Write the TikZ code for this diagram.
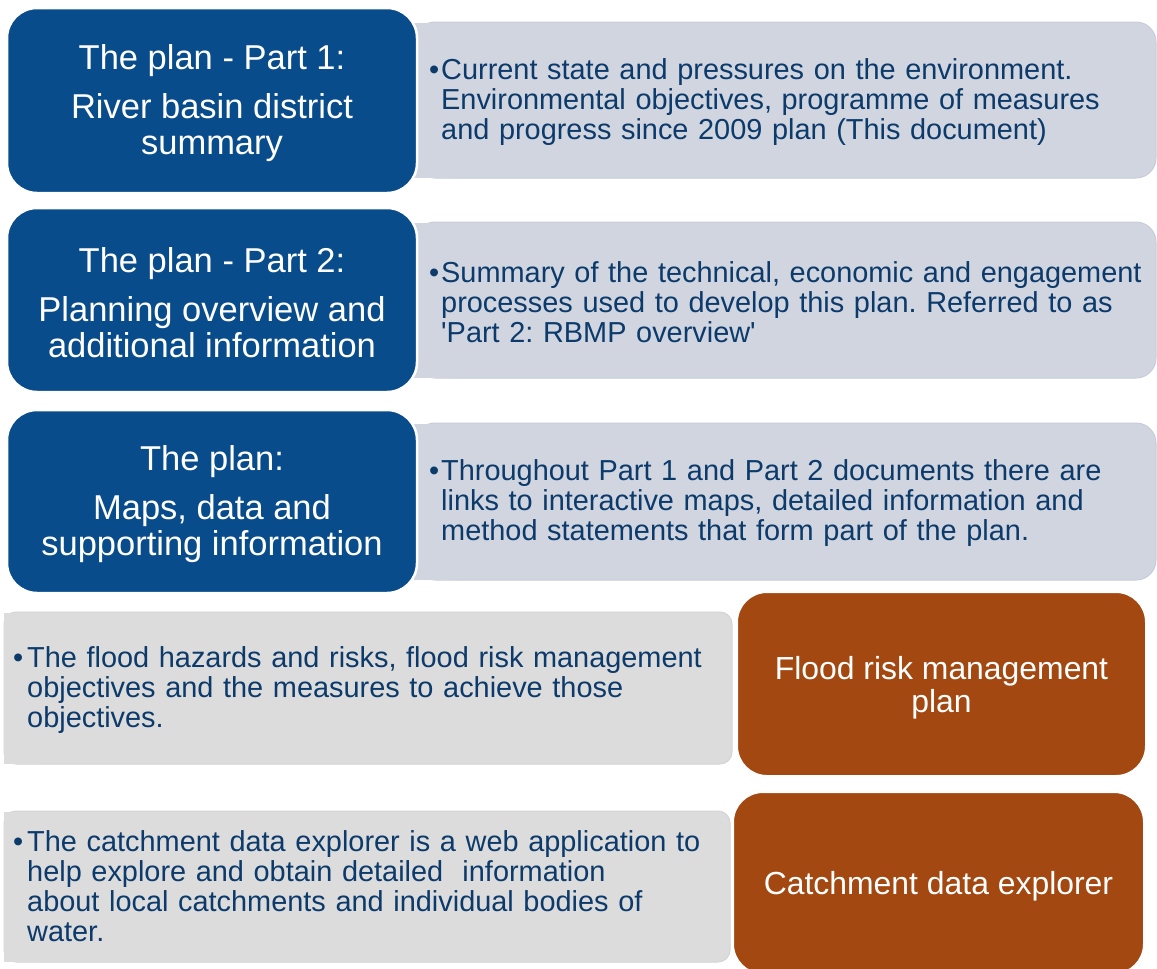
\documentclass[tikz,border=0pt]{standalone}
\usepackage{fontspec}
\newfontfamily\lsans{Liberation Sans}
\frenchspacing
\definecolor{planblue}{RGB}{9,76,139}
\definecolor{greytopc}{RGB}{208,213,223}
\definecolor{greytopb}{RGB}{199,205,216}
\definecolor{greybotc}{RGB}{220,220,220}
\definecolor{greybotb}{RGB}{212,212,212}
\definecolor{floodorange}{RGB}{163,72,17}
\definecolor{textblue}{RGB}{12,58,107}
\newcommand{\bul}{\makebox[12pt][l]{\textbullet}}
\newcommand{\ind}{\hspace*{12pt}}
\tikzset{
  bluebox/.style={fill=planblue, draw=white, line width=2.5pt, rounded corners=30pt, outer sep=0pt, inner sep=0pt},
  orangebox/.style={fill=floodorange, draw=white, line width=2pt, rounded corners=30pt, outer sep=0pt, inner sep=0pt},
  bluetext/.style={inner sep=0pt, align=center, text=white, font=\lsans\frenchspacing\fontsize{34.5}{36}\selectfont},
  orangetext/.style={inner sep=0pt, align=center, text=white, font=\lsans\frenchspacing\fontsize{31.9}{33}\selectfont},
  greytop/.style={fill=greytopc, draw=greytopb, line width=1pt, rounded corners=20pt, inner sep=0pt, outer sep=0pt},
  greybot/.style={fill=greybotc, draw=greybotb, line width=1pt, rounded corners=12pt, inner sep=0pt, outer sep=0pt},
  greytext/.style={inner sep=0pt, align=left, text width=740pt, text=textblue,
    font=\lsans\frenchspacing\fontsize{28.9}{30}\selectfont, anchor=west},
}
\begin{document}
\begin{tikzpicture}[x=1pt,y=-1pt]
\useasboundingbox[fill=white] (0,0) rectangle (1157,969);

% grey boxes, top
\node[greytop, anchor=north west, minimum width=741pt, minimum height=156pt] (g1) at (415,22) {};
\fill[greytopc] (414,22.5) rectangle (450,177.5);
\node[greytop, anchor=north west, minimum width=741pt, minimum height=156pt] (g2) at (415,222) {};
\fill[greytopc] (414,222.5) rectangle (450,377.5);
\node[greytop, anchor=north west, minimum width=741pt, minimum height=157pt] (g3) at (415,423) {};
\fill[greytopc] (414,423.5) rectangle (450,579.5);

% grey boxes, bottom
\node[greybot, anchor=north west, minimum width=728pt, minimum height=152pt] (g4) at (4,612) {};
\fill[greybotc] (3.5,612.5) rectangle (40,763.5);
\node[greybot, anchor=north west, minimum width=726pt, minimum height=151pt] (g5) at (4,811) {};
\fill[greybotc] (3.5,811.5) rectangle (40,961.5);

% blue boxes
\node[bluebox, anchor=north west, minimum width=410pt, minimum height=185pt] (b1) at (7,8) {};
\node[bluebox, anchor=north west, minimum width=410pt, minimum height=184pt] (b2) at (7,208) {};
\node[bluebox, anchor=north west, minimum width=410pt, minimum height=183pt] (b3) at (7,410) {};
\node[bluetext] (b1t) at ([yshift=-3pt]b1.center)
  {The plan - Part 1:\\[13pt]River basin district\\summary};
\node[bluetext] (b2t) at ([yshift=-3pt]b2.center)
  {The plan - Part 2:\\[13pt]Planning overview and\\additional information};
\node[bluetext] (b3t) at ([yshift=-3pt]b3.center)
  {The plan:\\[13pt]Maps, data and\\supporting information};

% orange boxes
\node[orangebox, anchor=north west, minimum width=409pt, minimum height=184pt] (o1) at (737,592) {};
\node[orangebox, anchor=north west, minimum width=411pt, minimum height=182pt] (o2) at (733,792) {};
\node[orangetext] (o1t) at ([yshift=-3.5pt]o1.center) {Flood risk management\\plan};
\node[orangetext] (o2t) at ([yshift=-3pt]o2.center) {Catchment data explorer};

% grey texts
\node[greytext] (t1) at (429,102)
  {\bul Current state and pressures on the environment.\\
   \ind Environmental objectives, programme of measures\\
   \ind and progress since 2009 plan (This document)};
\node[greytext] (t2) at (429,302)
  {\bul Summary of the technical, economic and engagement\\
   \ind processes used to develop this plan. Referred to as\\
   \ind 'Part 2: RBMP overview'};
\node[greytext] (t3) at (429,503)
  {\bul Throughout Part 1 and Part 2 documents there are\\
   \ind links to interactive maps, detailed information and\\
   \ind method statements that form part of the plan.};
\node[greytext] (t4) at (13,690)
  {\makebox[14pt][l]{\textbullet}The flood hazards and risks, flood risk management\\
   \hspace*{14pt}objectives and the measures to achieve those\\
   \hspace*{14pt}objectives.};
\node[greytext] (t5) at (13,886.5)
  {\makebox[14pt][l]{\textbullet}The catchment data explorer is a web application to\\
   \hspace*{14pt}help explore and obtain detailed\ \ information\\
   \hspace*{14pt}about local catchments and individual bodies of\\
   \hspace*{14pt}water.};
\end{tikzpicture}
\end{document}
